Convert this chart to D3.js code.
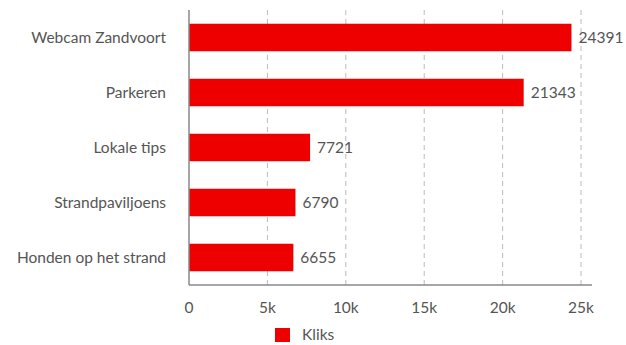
<!DOCTYPE html>
<html>
<head>
<script src="https://cdn.jsdelivr.net/npm/d3@7"></script>
<style>
  body { margin: 0; background: #fff; }
  text { font-family: Lato, sans-serif; fill: #555; font-size: 15.5px; }
</style>
</head>
<body>
<div id="vis"></div>
<script>
  var categories = ["Webcam Zandvoort", "Parkeren", "Lokale tips", "Strandpaviljoens", "Honden op het strand"];
  var kliks = [24391, 21343, 7721, 6790, 6655];
  var ticks = [0, 5000, 10000, 15000, 20000, 25000];
  var tickLabels = ["0", "5k", "10k", "15k", "20k", "25k"];
  var seriesName = "Kliks";

  var w = 626, h = 345;
  var plotLeft = 189, plotRight = 592, plotTop = 10, plotBottom = 285;
  var red = "#ee0000";

  var svg = d3.select("#vis").append("svg")
      .attr("width", w).attr("height", h);

  var x = d3.scaleLinear().domain([0, 25700]).range([plotLeft, plotRight]);
  var y = d3.scaleBand().domain(categories).range([plotTop, plotBottom])
      .paddingInner(0.5).paddingOuter(0.25);

  // dashed grid
  svg.append("g").selectAll("line")
      .data(ticks.slice(1))
      .join("line")
      .attr("x1", d => x(d)).attr("x2", d => x(d))
      .attr("y1", plotTop).attr("y2", plotBottom)
      .attr("stroke", "#bbb")
      .attr("stroke-dasharray", "5,4");

  // bars
  svg.append("g").selectAll("rect")
      .data(categories)
      .join("rect")
      .attr("x", x(0))
      .attr("y", d => y(d))
      .attr("width", (d, i) => x(kliks[i]) - x(0))
      .attr("height", y.bandwidth())
      .attr("fill", red);

  // value labels
  svg.append("g").selectAll("text")
      .data(categories)
      .join("text")
      .attr("x", (d, i) => x(kliks[i]) + 7)
      .attr("y", d => y(d) + y.bandwidth() / 2)
      .attr("dy", "0.35em")
      .text((d, i) => kliks[i]);

  // category labels
  svg.append("g").selectAll("text")
      .data(categories)
      .join("text")
      .attr("x", 166)
      .attr("y", d => y(d) + y.bandwidth() / 2)
      .attr("dy", "0.35em")
      .attr("text-anchor", "end")
      .text(d => d);

  // axes lines
  svg.append("line")
      .attr("x1", plotLeft).attr("x2", plotLeft).attr("y1", plotTop).attr("y2", plotBottom)
      .attr("stroke", "#888").attr("stroke-width", 1.5);
  svg.append("line")
      .attr("x1", plotLeft).attr("x2", plotRight).attr("y1", plotBottom).attr("y2", plotBottom)
      .attr("stroke", "#888").attr("stroke-width", 1.5);

  // tick labels
  svg.append("g").selectAll("text")
      .data(ticks)
      .join("text")
      .attr("x", d => x(d))
      .attr("y", 308)
      .attr("dy", "0.35em")
      .attr("text-anchor", "middle")
      .text((d, i) => tickLabels[i]);

  // legend
  var lg = svg.append("g").attr("transform", "translate(275,328)");
  lg.append("rect").attr("width", 15).attr("height", 14).attr("fill", red);
  lg.append("text").attr("x", 27).attr("y", 7).attr("dy", "0.35em")
      .text(seriesName);
</script>
</body>
</html>
